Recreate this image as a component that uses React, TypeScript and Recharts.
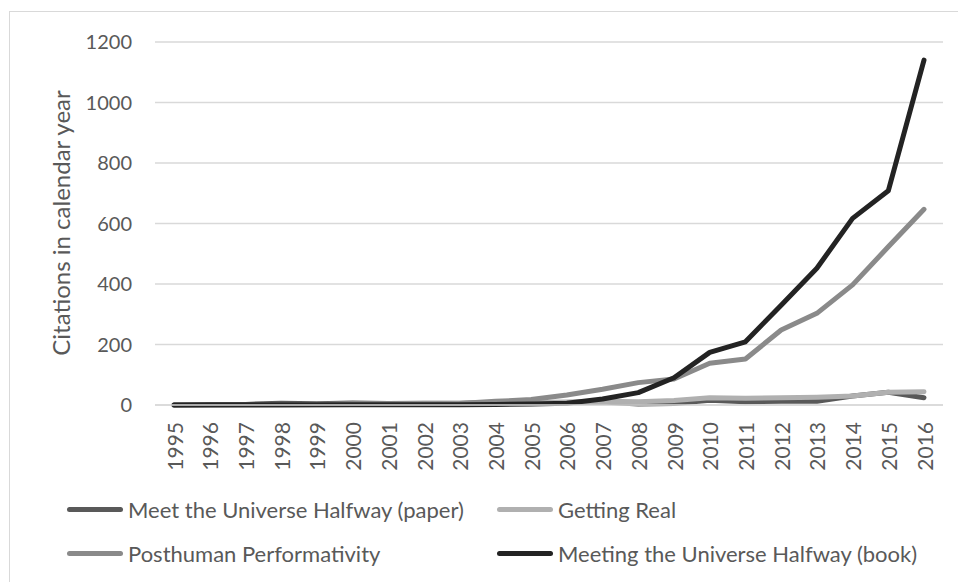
import React from 'react';
import { LineChart, Line, XAxis, YAxis, CartesianGrid, Legend } from 'recharts';

const years = [
  '1995', '1996', '1997', '1998', '1999', '2000', '2001', '2002', '2003', '2004', '2005',
  '2006', '2007', '2008', '2009', '2010', '2011', '2012', '2013', '2014', '2015', '2016',
];
const paper = [0, 0, 2, 6, 4, 7, 5, 6, 6, 8, 8, 8, 10, 3, 5, 16, 11, 12, 12, 30, 42, 24];
const gettingReal = [0, 0, 0, 1, 2, 3, 3, 4, 5, 6, 8, 10, 12, 11, 15, 24, 22, 24, 26, 30, 42, 44];
const posthuman = [0, 0, 0, 0, 1, 2, 2, 3, 5, 12, 18, 33, 52, 74, 86, 138, 152, 248, 303, 397, 523, 647];
const book = [0, 1, 1, 1, 1, 1, 1, 1, 1, 2, 3, 6, 20, 41, 90, 174, 209, 330, 452, 617, 708, 1140];
const yTicks = [0, 200, 400, 600, 800, 1000, 1200];

const series = [
  { key: 'paper', name: 'Meet the Universe Halfway (paper)', color: '#595959' },
  { key: 'gettingReal', name: 'Getting Real', color: '#b0b0b0' },
  { key: 'posthuman', name: 'Posthuman Performativity', color: '#8a8a8a' },
  { key: 'book', name: 'Meeting the Universe Halfway (book)', color: '#232323' },
];

const data = years.map((year, i) => ({
  year,
  paper: paper[i],
  gettingReal: gettingReal[i],
  posthuman: posthuman[i],
  book: book[i],
}));

const FONT = 'Lato, "Open Sans", sans-serif';
const TEXT = '#595959';

const YearTick = ({ x, y, payload }: { x?: number; y?: number; payload?: { value: string } }) => (
  <text
    x={x}
    y={y}
    transform={`rotate(-90 ${x} ${y})`}
    textAnchor="end"
    dominantBaseline="central"
    fontSize={21}
    fontFamily={FONT}
    fill={TEXT}
  >
    {payload?.value}
  </text>
);

// two rows, two columns, as in the original
const legendSlots = [
  { lineX: 67, top: 24 },
  { lineX: 497, top: 24 },
  { lineX: 67, top: 68 },
  { lineX: 497, top: 68 },
];

const LegendBox = () => (
  <div style={{ position: 'relative', width: 958, height: 90, fontFamily: FONT, fontSize: 22, color: TEXT }}>
    {series.map((s, i) => {
      const slot = legendSlots[i];
      return (
        <div key={s.key} style={{ position: 'absolute', left: slot.lineX, top: slot.top - 13, height: 26, display: 'flex', alignItems: 'center', whiteSpace: 'nowrap' }}>
          <span style={{ display: 'inline-block', width: 56, height: 5, borderRadius: 3, background: s.color, marginRight: 5 }} />
          <span>{s.name}</span>
        </div>
      );
    })}
  </div>
);

export default function App() {
  return (
    <div style={{ position: 'absolute', left: 0, top: 0, width: 958, height: 582, overflow: 'hidden', background: '#fff' }}>
      <div style={{ position: 'absolute', left: 9, top: 11, width: 980, height: 600, border: '1.5px solid #d9d9d9' }} />
      <LineChart width={958} height={582} data={data} margin={{ top: 42, right: 15, left: 75, bottom: 27 }}>
        <CartesianGrid vertical={false} stroke="#d9d9d9" strokeWidth={1.5} />
        <XAxis
          dataKey="year"
          interval={0}
          height={60}
          padding={{ left: 19, right: 19 }}
          tick={<YearTick />}
          tickLine={false}
          tickSize={0}
          tickMargin={17}
          axisLine={{ stroke: '#d9d9d9', strokeWidth: 1.5 }}
        />
        <YAxis
          width={80}
          domain={[0, 1200]}
          ticks={yTicks}
          axisLine={false}
          tickLine={false}
          tickSize={0}
          tickMargin={23}
          tick={{ fontSize: 20, fontFamily: FONT, fill: TEXT }}
          label={{
            content: () => (
              <text x={60} y={223} transform="rotate(-90 60 223)" textAnchor="middle" dominantBaseline="central" fontSize={24} fontFamily={FONT} fill={TEXT}>
                Citations in calendar year
              </text>
            ),
          }}
        />
        <Legend verticalAlign="bottom" content={<LegendBox />} wrapperStyle={{ left: 0, top: 485, bottom: 'auto', width: 958, height: 90 }} />
        {series.map((s) => (
          <Line
            key={s.key}
            type="linear"
            dataKey={s.key}
            name={s.name}
            stroke={s.color}
            strokeWidth={5}
            strokeLinecap="round"
            strokeLinejoin="round"
            dot={false}
            isAnimationActive={false}
          />
        ))}
      </LineChart>
    </div>
  );
}
